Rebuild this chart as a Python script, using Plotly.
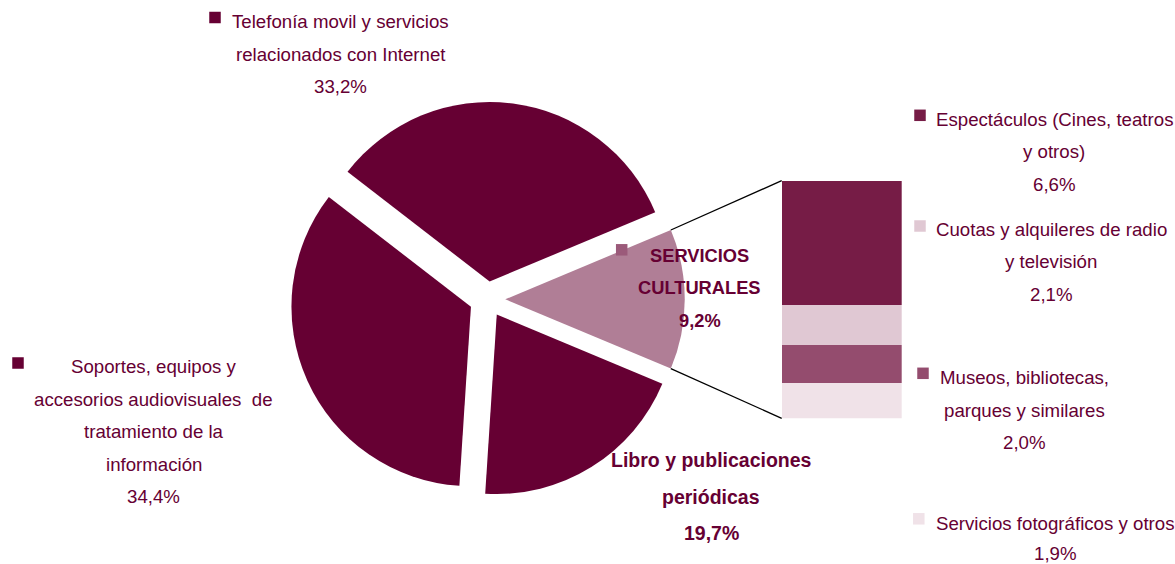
import plotly.graph_objects as go
import math

# ---------------- data ----------------
pie_labels = ["SERVICIOS CULTURALES", "Libro y publicaciones periódicas",
              "Soportes, equipos y accesorios audiovisuales de tratamiento de la información",
              "Telefonía movil y servicios relacionados con Internet"]
sub_labels = ["Servicios fotográficos y otros", "Museos, bibliotecas, parques y similares",
              "Cuotas y alquileres de radio y televisión", "Espectáculos (Cines, teatros y otros)"]
sub_values = [1.9, 2.0, 2.1, 6.6]
main_values = [19.7, 34.4, 33.2]
servicios_pct = 9.2          # label shown on the "other" slice
pie_values = [sum(sub_values)] + main_values

DARK = "#660033"
pie_colors = ["#B07E96", DARK, DARK, DARK]
sub_colors = ["#F0E2E8", "#944C6E", "#E0C8D3", "#761C46"]
TXT = "#660033"
FONT = "Liberation Sans, Arial, sans-serif"

W, H = 1175, 564
PULL = 0.1


def pct(v):
    return f"{v:.1f}%".replace(".", ",")


# pie layout box (pixels)
pie_cx, pie_cy, pie_R = 487.3, 299.3, 179.5
S = 2 * pie_R * (1 + PULL)
pie_dom_x = [(pie_cx - S / 2) / W, (pie_cx + S / 2) / W]
pie_dom_y = [(H - pie_cy - S / 2) / H, (H - pie_cy + S / 2) / H]

# bar box (pixels)
bar_x = [781.7 / W, 901.7 / W]
bar_y = [(H - 418.3) / H, (H - 180.7) / H]

total = sum(pie_values)
half = 360 * pie_values[0] / total / 2
rotation = 90 - half

fig = go.Figure()
fig.add_trace(go.Pie(
    values=pie_values, labels=pie_labels, sort=False, direction="clockwise",
    rotation=rotation, pull=[PULL] * 4, textinfo="none",
    marker=dict(colors=pie_colors, line=dict(width=0)),
    domain=dict(x=pie_dom_x, y=pie_dom_y), showlegend=False,
))

for lab, val, col in zip(sub_labels, sub_values, sub_colors):
    fig.add_trace(go.Bar(
        x=[0], y=[val], name=lab, width=1, marker=dict(color=col, line=dict(width=0)),
        showlegend=False, xaxis="x", yaxis="y",
    ))

# connector lines, computed from pie geometry
R = min(W * (pie_dom_x[1] - pie_dom_x[0]), H * (pie_dom_y[1] - pie_dom_y[0])) / (2 + 2 * PULL)
cx = W * (pie_dom_x[0] + pie_dom_x[1]) / 2 + PULL * R
cy = H * (1 - (pie_dom_y[0] + pie_dom_y[1]) / 2)
hr = math.radians(half)
shapes = []
for sgn, yb in ((-1, bar_y[1]), (1, bar_y[0])):
    px = cx + R * math.cos(hr)
    py = cy + sgn * R * math.sin(hr)
    shapes.append(dict(type="line", xref="paper", yref="paper",
                       x0=px / W, y0=1 - py / H, x1=bar_x[0], y1=yb,
                       line=dict(color="black", width=1.3)))

annotations = []


def add_label(lines, xc, ys, size=18.67, bold=False, square=None):
    for t, y in zip(lines, ys):
        txt = f"<b>{t}</b>" if bold else t
        annotations.append(dict(text=txt, x=xc / W, y=1 - y / H, xref="paper", yref="paper",
                                xanchor="center", yanchor="middle", showarrow=False,
                                font=dict(family=FONT, size=size, color=TXT)))
    if square:
        sx, sy, col = square
        s = 11.5
        shapes.append(dict(type="rect", xref="paper", yref="paper",
                           x0=(sx - s / 2) / W, x1=(sx + s / 2) / W,
                           y0=1 - (sy + s / 2) / H, y1=1 - (sy - s / 2) / H,
                           fillcolor=col, line=dict(width=0)))


add_label(["Telefonía movil y servicios", "relacionados con Internet", pct(main_values[2])],
          340.7, [21.7, 55.0, 86.7], square=(215, 17.5, DARK))
add_label(["Soportes, equipos y", "accesorios audiovisuales  de", "tratamiento de la",
           "información", pct(main_values[1])],
          153.7, [366.7, 399.0, 431.7, 464.0, 496.7], square=(18, 363, DARK))
add_label(["SERVICIOS", "CULTURALES", pct(servicios_pct)],
          699.6, [255.0, 287.4, 320.0], size=18.3, bold=True, square=(621.7, 249.8, "#9B5A7A"))
add_label(["Libro y publicaciones", "periódicas", pct(main_values[0])],
          711.0, [459.9, 496.5, 533.2], size=19.5, bold=True)
add_label(["Espectáculos (Cines, teatros", "y otros)", pct(sub_values[3])],
          1054.0, [119.4, 151.7, 184.0], square=(920, 115.3, sub_colors[3]))
add_label(["Cuotas y alquileres de radio", "y televisión", pct(sub_values[2])],
          1051.0, [229.4, 261.7, 294.4], square=(920, 226, sub_colors[2]))
add_label(["Museos, bibliotecas,", "parques y similares", pct(sub_values[1])],
          1024.1, [377.7, 410.7, 442.7], square=(923, 373.3, sub_colors[1]))
add_label(["Servicios fotográficos y otros", pct(sub_values[0])],
          1055.2, [523.0, 553.0], square=(918.8, 518.8, sub_colors[0]))

fig.update_layout(
    width=W, height=H, margin=dict(l=0, r=0, t=0, b=0),
    paper_bgcolor="white", plot_bgcolor="rgba(0,0,0,0)",
    barmode="stack", bargap=0,
    xaxis=dict(domain=bar_x, range=[-0.5, 0.5], visible=False, fixedrange=True),
    yaxis=dict(domain=bar_y, range=[0, sum(sub_values)], visible=False, fixedrange=True),
    shapes=shapes, annotations=annotations,
    font=dict(family=FONT, color=TXT),
)

fig.write_html("out.html", config={"displayModeBar": False},
               post_script="document.body.style.margin='0';document.body.style.overflow='hidden';")
